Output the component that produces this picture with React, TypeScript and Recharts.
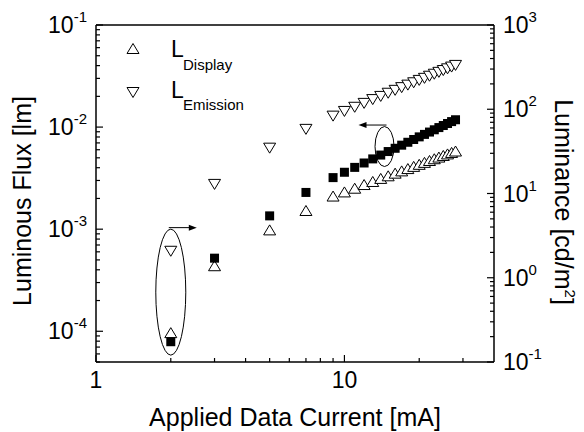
import React from "react";
import { ScatterChart, Scatter, XAxis, YAxis, ReferenceDot, Label } from "recharts";

// drive current [mA]
const CURRENT = [2, 3, 5, 7, 9, 10, 11, 12, 13, 14, 15, 16, 17, 18, 19, 20, 21, 22, 23, 24, 25, 26, 27, 28];
// luminous flux [lm] (left axis, filled squares)
const FLUX = [
  7.9e-5, 5.2e-4, 1.35e-3, 2.29e-3, 3.2e-3, 3.61e-3, 4.03e-3, 4.45e-3, 4.88e-3, 5.32e-3, 5.76e-3, 6.2e-3,
  6.65e-3, 7.1e-3, 7.56e-3, 8.02e-3, 8.48e-3, 8.94e-3, 9.41e-3, 9.89e-3, 1.036e-2, 1.084e-2, 1.132e-2, 1.18e-2,
];
// luminance [cd/m2] (right axis)
const L_DISPLAY = [
  0.22, 1.37, 3.65, 6.2, 9.2, 10.3, 11.4, 12.6, 13.7, 14.9, 16.0, 17.2, 18.3, 19.5, 20.7, 21.9, 23.1, 24.3, 25.5,
  26.7, 27.9, 29.1, 30.3, 31.5,
];
const L_EMISSION = [
  2.09, 13, 35, 58.5, 84, 95.5, 107, 119, 132, 144, 157, 170, 183, 196, 209, 223, 236, 250, 264, 278, 292, 306,
  321, 336,
];

const X_TICKS = [1, 2, 3, 4, 5, 6, 7, 8, 9, 10, 20, 30];
const X_LABELS: Record<number, string> = { 1: "1", 10: "10" };
const LEFT_DOMAIN = [5e-5, 0.1];
const RIGHT_DOMAIN = [0.1, 1000];
const MINOR_STEPS = [1, 2, 3, 4, 5, 6, 7, 8, 9];

// annotation anchors (data space): ellipse around the x=2 points -> right axis, ellipse on the squares -> left axis
const MARK_X = [2, 14.5];
const MARK_Y = [0.675, 6.45e-3];

const FONT = '"Liberation Sans", Arial, Helvetica, sans-serif';

const logTicks = (lo: number, hi: number) => {
  const out: number[] = [];
  for (let e = Math.floor(Math.log10(lo)); e <= Math.ceil(Math.log10(hi)); e++) {
    for (const m of MINOR_STEPS) {
      const v = Number((m * Math.pow(10, e)).toPrecision(6));
      if (v >= lo * 0.999 && v <= hi * 1.001) out.push(v);
    }
  }
  return out;
};
const LEFT_TICKS = logTicks(LEFT_DOMAIN[0], LEFT_DOMAIN[1]);
const RIGHT_TICKS = logTicks(RIGHT_DOMAIN[0], RIGHT_DOMAIN[1]);

const isMajor = (v: number) => Math.abs(Math.log10(v) - Math.round(Math.log10(v))) < 1e-6;

const flux = CURRENT.map((x, i) => ({ x, y: FLUX[i] }));
const display = CURRENT.map((x, i) => ({ x, y: L_DISPLAY[i] }));
const emission = CURRENT.map((x, i) => ({ x, y: L_EMISSION[i] }));

const PowLabel = ({ x, y, v, anchor }: { x: number; y: number; v: number; anchor: "start" | "end" }) => (
  <text x={x} y={y} textAnchor={anchor} fontFamily={FONT} fontSize={23} fill="#000">
    10
    <tspan dy={-11} fontSize={15}>
      {String(Math.round(Math.log10(v)))}
    </tspan>
  </text>
);

const LeftTick = (p: any) => {
  const v = p.payload.value;
  const major = isMajor(v);
  return (
    <g>
      <line x1={p.x} x2={p.x + (major ? 7 : 4)} y1={p.y} y2={p.y} stroke="#000" strokeWidth={1.2} />
      {major && <PowLabel x={p.x - 9} y={p.y + 8} v={v} anchor="end" />}
    </g>
  );
};

const RightTick = (p: any) => {
  const v = p.payload.value;
  const major = isMajor(v);
  return (
    <g>
      <line x1={p.x} x2={p.x - (major ? 7 : 4)} y1={p.y} y2={p.y} stroke="#000" strokeWidth={1.2} />
      {major && <PowLabel x={p.x + 9} y={p.y + 8} v={v} anchor="start" />}
    </g>
  );
};

const BottomTick = (p: any) => {
  const v = p.payload.value;
  const lab = X_LABELS[v];
  return (
    <g>
      <line x1={p.x} x2={p.x} y1={p.y} y2={p.y - (lab ? 7 : 4)} stroke="#000" strokeWidth={1.2} />
      {lab && (
        <text x={p.x} y={p.y + 26} textAnchor="middle" fontFamily={FONT} fontSize={23} fill="#000">
          {lab}
        </text>
      )}
    </g>
  );
};

const TopTick = (p: any) => {
  const v = p.payload.value;
  const lab = X_LABELS[v];
  return <line x1={p.x} x2={p.x} y1={p.y} y2={p.y + (lab ? 7 : 4)} stroke="#000" strokeWidth={1.2} />;
};

const triUp = (cx: number, cy: number) => `M${cx},${cy - 5.5}L${cx + 6},${cy + 4.5}L${cx - 6},${cy + 4.5}Z`;
const triDown = (cx: number, cy: number) => `M${cx},${cy + 5.5}L${cx + 6},${cy - 4.5}L${cx - 6},${cy - 4.5}Z`;

const UpShape = (p: any) => <path d={triUp(p.cx, p.cy)} fill="#fff" stroke="#000" strokeWidth={1} />;
const DownShape = (p: any) => <path d={triDown(p.cx, p.cy)} fill="#fff" stroke="#000" strokeWidth={1} />;
const SquareShape = (p: any) => <rect x={p.cx - 4.5} y={p.cy - 4.5} width={9} height={9} fill="#000" />;

const EllipseArrow = (rx: number, ry: number, dir: number) => (p: any) => {
  const top = p.cy - ry - 1.5;
  const x0 = p.cx - dir * 2;
  const x1 = p.cx + dir * 26;
  return (
    <g>
      <ellipse cx={p.cx} cy={p.cy} rx={rx} ry={ry} fill="none" stroke="#000" strokeWidth={1} />
      <line x1={x0} y1={top} x2={x1 - dir * 6} y2={top} stroke="#000" strokeWidth={1} />
      <path d={`M${x1},${top}L${x1 - dir * 8},${top - 3}L${x1 - dir * 8},${top + 3}Z`} fill="#000" />
    </g>
  );
};

const Legend = () => (
  <g fontFamily={FONT} fill="#000">
    <path d={triUp(133, 49)} fill="#fff" stroke="#000" strokeWidth={1} />
    <text x={171} y={57} fontSize={23}>
      L
    </text>
    <text x={183} y={70} fontSize={15}>
      Display
    </text>
    <path d={triDown(133, 92)} fill="#fff" stroke="#000" strokeWidth={1} />
    <text x={171} y={98} fontSize={23}>
      L
    </text>
    <text x={183} y={110} fontSize={15}>
      Emission
    </text>
  </g>
);

export default function App() {
  return (
    <div style={{ position: "absolute", left: 0, top: 0, background: "#fff" }}>
      <ScatterChart width={584} height={432} margin={{ top: 0, right: 0, bottom: 0, left: 0 }}>
        <XAxis
          xAxisId="bottom"
          dataKey="x"
          type="number"
          scale="log"
          domain={[1, 40]}
          allowDataOverflow
          ticks={X_TICKS}
          interval={0}
          height={70}
          tickSize={0}
          tickMargin={0}
          tick={BottomTick}
          axisLine={{ stroke: "#000", strokeWidth: 1.5 }}
        >
          <Label
            content={() => (
              <text x={295} y={426} textAnchor="middle" fontFamily={FONT} fontSize={25} fill="#000">
                Applied Data Current [mA]
              </text>
            )}
          />
        </XAxis>
        <XAxis
          xAxisId="top"
          orientation="top"
          type="number"
          scale="log"
          domain={[1, 40]}
          allowDataOverflow
          ticks={X_TICKS}
          interval={0}
          height={25}
          tickSize={0}
          tickMargin={0}
          tick={TopTick}
          axisLine={{ stroke: "#000", strokeWidth: 1.5 }}
        >
          <Label content={() => <Legend />} />
        </XAxis>
        <YAxis
          yAxisId="left"
          dataKey="y"
          type="number"
          scale="log"
          domain={LEFT_DOMAIN}
          allowDataOverflow
          ticks={LEFT_TICKS}
          interval={0}
          width={96}
          tickSize={0}
          tickMargin={0}
          tick={LeftTick}
          axisLine={{ stroke: "#000", strokeWidth: 1.5 }}
        >
          <Label
            content={() => (
              <text
                x={31}
                y={201}
                transform="rotate(-90 31 201)"
                textAnchor="middle"
                fontFamily={FONT}
                fontSize={25}
                fill="#000"
              >
                Luminous Flux [lm]
              </text>
            )}
          />
        </YAxis>
        <YAxis
          yAxisId="right"
          orientation="right"
          dataKey="y"
          type="number"
          scale="log"
          domain={RIGHT_DOMAIN}
          allowDataOverflow
          ticks={RIGHT_TICKS}
          interval={0}
          width={90}
          tickSize={0}
          tickMargin={0}
          tick={RightTick}
          axisLine={{ stroke: "#000", strokeWidth: 1.5 }}
        >
          <Label
            content={() => (
              <text
                x={555}
                y={202}
                transform="rotate(90 555 202)"
                textAnchor="middle"
                fontFamily={FONT}
                fontSize={25}
                fill="#000"
              >
                Luminance [cd/m
                <tspan dy={-10} fontSize={15}>
                  2
                </tspan>
                <tspan dy={10}>]</tspan>
              </text>
            )}
          />
        </YAxis>

        <Scatter xAxisId="bottom" yAxisId="right" data={emission} shape={DownShape} isAnimationActive={false} />
        <Scatter xAxisId="bottom" yAxisId="right" data={display} shape={UpShape} isAnimationActive={false} />
        <Scatter xAxisId="bottom" yAxisId="left" data={flux} shape={SquareShape} isAnimationActive={false} />

        <ReferenceDot
          xAxisId="bottom"
          yAxisId="right"
          x={MARK_X[0]}
          y={MARK_Y[0]}
          r={0}
          shape={EllipseArrow(15, 63, 1)}
        />
        <ReferenceDot
          xAxisId="bottom"
          yAxisId="left"
          x={MARK_X[1]}
          y={MARK_Y[1]}
          r={0}
          shape={EllipseArrow(9.5, 20, -1)}
        />
      </ScatterChart>
    </div>
  );
}
